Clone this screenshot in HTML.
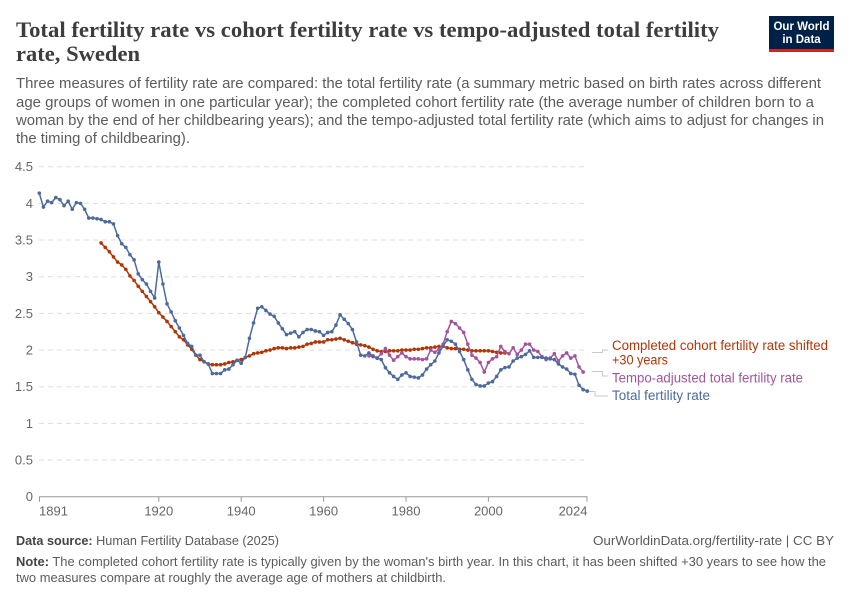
<!DOCTYPE html>
<html><head><meta charset="utf-8"><style>
html,body{margin:0;padding:0;background:#fff;}
svg{display:block;}
text{font-family:"Liberation Sans",sans-serif;}
</style></head><body>
<svg width="850" height="600" viewBox="0 0 850 600" xmlns="http://www.w3.org/2000/svg">
<rect width="850" height="600" fill="#fff"/>
<!-- Title -->
<g font-family="Liberation Serif, serif" font-weight="bold" fill="#3d3d3d" font-size="22.5">
<text x="16" y="37" textLength="703" lengthAdjust="spacingAndGlyphs" style="font-family:'Liberation Serif',serif">Total fertility rate vs cohort fertility rate vs tempo-adjusted total fertility</text>
<text x="16" y="61" textLength="124" lengthAdjust="spacingAndGlyphs" style="font-family:'Liberation Serif',serif">rate, Sweden</text>
</g>
<!-- Logo -->
<rect x="769" y="16" width="65" height="36" fill="#002147"/>
<rect x="769" y="49" width="65" height="3" fill="#ce261e"/>
<text x="801.5" y="30" fill="#fff" font-size="11.5" font-weight="bold" text-anchor="middle">Our World</text>
<text x="801.5" y="43" fill="#fff" font-size="11.5" font-weight="bold" text-anchor="middle">in Data</text>
<!-- Subtitle -->
<g fill="#5b5b5b" font-size="14.6">
<text x="16" y="88" textLength="805" lengthAdjust="spacingAndGlyphs">Three measures of fertility rate are compared: the total fertility rate (a summary metric based on birth rates across different</text>
<text x="16" y="107" textLength="798" lengthAdjust="spacingAndGlyphs">age groups of women in one particular year); the completed cohort fertility rate (the average number of children born to a</text>
<text x="16" y="125" textLength="808" lengthAdjust="spacingAndGlyphs">woman by the end of her childbearing years); and the tempo-adjusted total fertility rate (which aims to adjust for changes in</text>
<text x="16" y="143" textLength="174" lengthAdjust="spacingAndGlyphs">the timing of childbearing).</text>
</g>
<!-- Gridlines -->
<g stroke="#dddddd" stroke-width="1" stroke-dasharray="5,4">
<line x1="39" x2="587" y1="166.7" y2="166.7"/>
<line x1="39" x2="587" y1="203.4" y2="203.4"/>
<line x1="39" x2="587" y1="240.0" y2="240.0"/>
<line x1="39" x2="587" y1="276.7" y2="276.7"/>
<line x1="39" x2="587" y1="313.4" y2="313.4"/>
<line x1="39" x2="587" y1="350.0" y2="350.0"/>
<line x1="39" x2="587" y1="386.7" y2="386.7"/>
<line x1="39" x2="587" y1="423.4" y2="423.4"/>
<line x1="39" x2="587" y1="460.0" y2="460.0"/>
</g>
<!-- Y labels -->
<g fill="#666" font-size="13" text-anchor="end">
<text x="33" y="171.2">4.5</text>
<text x="33" y="207.9">4</text>
<text x="33" y="244.5">3.5</text>
<text x="33" y="281.2">3</text>
<text x="33" y="317.9">2.5</text>
<text x="33" y="354.5">2</text>
<text x="33" y="391.2">1.5</text>
<text x="33" y="427.9">1</text>
<text x="33" y="464.5">0.5</text>
<text x="33" y="501.2">0</text>
</g>
<!-- X axis -->
<line x1="39" x2="587.5" y1="496.7" y2="496.7" stroke="#999" stroke-width="1"/>
<g stroke="#999" stroke-width="1">
<line x1="39.5" x2="39.5" y1="496.7" y2="501.7"/>
<line x1="158.8" x2="158.8" y1="496.7" y2="501.7"/>
<line x1="241.2" x2="241.2" y1="496.7" y2="501.7"/>
<line x1="323.6" x2="323.6" y1="496.7" y2="501.7"/>
<line x1="406.0" x2="406.0" y1="496.7" y2="501.7"/>
<line x1="488.4" x2="488.4" y1="496.7" y2="501.7"/>
<line x1="587.0" x2="587.0" y1="496.7" y2="501.7"/>
</g>
<g fill="#666" font-size="13">
<text x="39" y="515.5">1891</text>
<text x="158.8" y="515.5" text-anchor="middle">1920</text>
<text x="241.2" y="515.5" text-anchor="middle">1940</text>
<text x="323.6" y="515.5" text-anchor="middle">1960</text>
<text x="406.0" y="515.5" text-anchor="middle">1980</text>
<text x="488.4" y="515.5" text-anchor="middle">2000</text>
<text x="587.5" y="515.5" text-anchor="end">2024</text>
</g>
<!-- Data series -->
<g transform="translate(39.3,496.7) scale(4.12,-73.33) translate(-1891,0)" fill="none" stroke-linejoin="round">
<!-- Cohort (red) -->
<polyline vector-effect="non-scaling-stroke" stroke="#b13507" stroke-width="1.5" points="1906,3.46 1907,3.40 1908,3.34 1909,3.27 1910,3.20 1911,3.16 1912,3.10 1913,3.01 1914,2.95 1915,2.87 1916,2.80 1917,2.73 1918,2.66 1919,2.59 1920,2.51 1921,2.45 1922,2.39 1923,2.32 1924,2.25 1925,2.18 1926,2.14 1927,2.07 1928,2.01 1929,1.93 1930,1.87 1931,1.84 1932,1.81 1933,1.80 1934,1.80 1935,1.80 1936,1.81 1937,1.83 1938,1.84 1939,1.86 1940,1.87 1941,1.90 1942,1.92 1943,1.95 1944,1.96 1945,1.97 1946,1.99 1947,2.00 1948,2.02 1949,2.03 1950,2.03 1951,2.02 1952,2.03 1953,2.03 1954,2.04 1955,2.05 1956,2.08 1957,2.09 1958,2.11 1959,2.11 1960,2.11 1961,2.14 1962,2.14 1963,2.15 1964,2.16 1965,2.14 1966,2.12 1967,2.10 1968,2.08 1969,2.07 1970,2.06 1971,2.04 1972,2.01 1973,1.99 1974,1.98 1975,1.98 1976,1.99 1977,1.99 1978,1.99 1979,2.00 1980,2.00 1981,2.00 1982,2.01 1983,2.01 1984,2.02 1985,2.03 1986,2.03 1987,2.04 1988,2.05 1989,2.05 1990,2.03 1991,2.02 1992,2.02 1993,2.01 1994,2.01 1995,2.00 1996,1.99 1997,1.99 1998,1.99 1999,1.99 2000,1.99 2001,1.98 2002,1.97 2003,1.96 2004,1.96"/>
<path vector-effect="non-scaling-stroke" stroke="#b13507" stroke-width="3.6" stroke-linecap="round" d="M1906 3.46h0.01M1907 3.40h0.01M1908 3.34h0.01M1909 3.27h0.01M1910 3.20h0.01M1911 3.16h0.01M1912 3.10h0.01M1913 3.01h0.01M1914 2.95h0.01M1915 2.87h0.01M1916 2.80h0.01M1917 2.73h0.01M1918 2.66h0.01M1919 2.59h0.01M1920 2.51h0.01M1921 2.45h0.01M1922 2.39h0.01M1923 2.32h0.01M1924 2.25h0.01M1925 2.18h0.01M1926 2.14h0.01M1927 2.07h0.01M1928 2.01h0.01M1929 1.93h0.01M1930 1.87h0.01M1931 1.84h0.01M1932 1.81h0.01M1933 1.80h0.01M1934 1.80h0.01M1935 1.80h0.01M1936 1.81h0.01M1937 1.83h0.01M1938 1.84h0.01M1939 1.86h0.01M1940 1.87h0.01M1941 1.90h0.01M1942 1.92h0.01M1943 1.95h0.01M1944 1.96h0.01M1945 1.97h0.01M1946 1.99h0.01M1947 2.00h0.01M1948 2.02h0.01M1949 2.03h0.01M1950 2.03h0.01M1951 2.02h0.01M1952 2.03h0.01M1953 2.03h0.01M1954 2.04h0.01M1955 2.05h0.01M1956 2.08h0.01M1957 2.09h0.01M1958 2.11h0.01M1959 2.11h0.01M1960 2.11h0.01M1961 2.14h0.01M1962 2.14h0.01M1963 2.15h0.01M1964 2.16h0.01M1965 2.14h0.01M1966 2.12h0.01M1967 2.10h0.01M1968 2.08h0.01M1969 2.07h0.01M1970 2.06h0.01M1971 2.04h0.01M1972 2.01h0.01M1973 1.99h0.01M1974 1.98h0.01M1975 1.98h0.01M1976 1.99h0.01M1977 1.99h0.01M1978 1.99h0.01M1979 2.00h0.01M1980 2.00h0.01M1981 2.00h0.01M1982 2.01h0.01M1983 2.01h0.01M1984 2.02h0.01M1985 2.03h0.01M1986 2.03h0.01M1987 2.04h0.01M1988 2.05h0.01M1989 2.05h0.01M1990 2.03h0.01M1991 2.02h0.01M1992 2.02h0.01M1993 2.01h0.01M1994 2.01h0.01M1995 2.00h0.01M1996 1.99h0.01M1997 1.99h0.01M1998 1.99h0.01M1999 1.99h0.01M2000 1.99h0.01M2001 1.98h0.01M2002 1.97h0.01M2003 1.96h0.01M2004 1.96h0.01"/>
<!-- Tempo-adjusted (purple) -->
<polyline vector-effect="non-scaling-stroke" stroke="#a2559c" stroke-width="1.5" points="1971,1.92 1972,1.91 1973,1.89 1974,1.95 1975,2.02 1976,1.93 1977,1.86 1978,1.91 1979,1.96 1980,1.91 1981,1.88 1982,1.88 1983,1.88 1984,1.87 1985,1.88 1986,2.00 1987,1.97 1988,2.01 1989,2.08 1990,2.25 1991,2.39 1992,2.36 1993,2.30 1994,2.24 1995,2.08 1996,1.93 1997,1.89 1998,1.83 1999,1.70 2000,1.83 2001,1.88 2002,1.91 2003,2.05 2004,1.98 2005,1.95 2006,2.03 2007,1.94 2008,2.00 2009,2.08 2010,2.08 2011,2.00 2012,1.98 2013,1.91 2014,1.87 2015,1.89 2016,1.95 2017,1.85 2018,1.92 2019,1.96 2020,1.89 2021,1.92 2022,1.77 2023,1.70"/>
<path vector-effect="non-scaling-stroke" stroke="#a2559c" stroke-width="3.6" stroke-linecap="round" d="M1971 1.92h0.01M1972 1.91h0.01M1973 1.89h0.01M1974 1.95h0.01M1975 2.02h0.01M1976 1.93h0.01M1977 1.86h0.01M1978 1.91h0.01M1979 1.96h0.01M1980 1.91h0.01M1981 1.88h0.01M1982 1.88h0.01M1983 1.88h0.01M1984 1.87h0.01M1985 1.88h0.01M1986 2.00h0.01M1987 1.97h0.01M1988 2.01h0.01M1989 2.08h0.01M1990 2.25h0.01M1991 2.39h0.01M1992 2.36h0.01M1993 2.30h0.01M1994 2.24h0.01M1995 2.08h0.01M1996 1.93h0.01M1997 1.89h0.01M1998 1.83h0.01M1999 1.70h0.01M2000 1.83h0.01M2001 1.88h0.01M2002 1.91h0.01M2003 2.05h0.01M2004 1.98h0.01M2005 1.95h0.01M2006 2.03h0.01M2007 1.94h0.01M2008 2.00h0.01M2009 2.08h0.01M2010 2.08h0.01M2011 2.00h0.01M2012 1.98h0.01M2013 1.91h0.01M2014 1.87h0.01M2015 1.89h0.01M2016 1.95h0.01M2017 1.85h0.01M2018 1.92h0.01M2019 1.96h0.01M2020 1.89h0.01M2021 1.92h0.01M2022 1.77h0.01M2023 1.70h0.01"/>
<!-- TFR (blue) -->
<polyline vector-effect="non-scaling-stroke" stroke="#4c6a9c" stroke-width="1.5" points="1891,4.14 1892,3.95 1893,4.03 1894,4.01 1895,4.08 1896,4.05 1897,3.97 1898,4.03 1899,3.92 1900,4.01 1901,4.00 1902,3.92 1903,3.80 1904,3.80 1905,3.79 1906,3.78 1907,3.75 1908,3.75 1909,3.72 1910,3.56 1911,3.45 1912,3.40 1913,3.30 1914,3.23 1915,3.04 1916,2.96 1917,2.90 1918,2.80 1919,2.71 1920,3.20 1921,2.90 1922,2.63 1923,2.52 1924,2.40 1925,2.30 1926,2.20 1927,2.09 1928,2.05 1929,1.93 1930,1.93 1931,1.84 1932,1.81 1933,1.68 1934,1.68 1935,1.68 1936,1.73 1937,1.74 1938,1.80 1939,1.86 1940,1.82 1941,1.90 1942,2.16 1943,2.37 1944,2.57 1945,2.59 1946,2.54 1947,2.49 1948,2.46 1949,2.37 1950,2.29 1951,2.21 1952,2.23 1953,2.25 1954,2.18 1955,2.24 1956,2.28 1957,2.28 1958,2.26 1959,2.25 1960,2.20 1961,2.24 1962,2.25 1963,2.34 1964,2.48 1965,2.42 1966,2.36 1967,2.28 1968,2.11 1969,1.93 1970,1.92 1971,1.96 1972,1.92 1973,1.89 1974,1.87 1975,1.76 1976,1.69 1977,1.64 1978,1.60 1979,1.66 1980,1.69 1981,1.64 1982,1.63 1983,1.62 1984,1.66 1985,1.74 1986,1.80 1987,1.85 1988,1.96 1989,2.05 1990,2.14 1991,2.12 1992,2.08 1993,1.98 1994,1.87 1995,1.73 1996,1.60 1997,1.53 1998,1.51 1999,1.51 2000,1.55 2001,1.57 2002,1.64 2003,1.73 2004,1.76 2005,1.77 2006,1.85 2007,1.89 2008,1.91 2009,1.94 2010,1.99 2011,1.90 2012,1.90 2013,1.90 2014,1.89 2015,1.88 2016,1.87 2017,1.81 2018,1.77 2019,1.74 2020,1.68 2021,1.67 2022,1.52 2023,1.46 2024,1.44"/>
<path vector-effect="non-scaling-stroke" stroke="#4c6a9c" stroke-width="3.6" stroke-linecap="round" d="M1891 4.14h0.01M1892 3.95h0.01M1893 4.03h0.01M1894 4.01h0.01M1895 4.08h0.01M1896 4.05h0.01M1897 3.97h0.01M1898 4.03h0.01M1899 3.92h0.01M1900 4.01h0.01M1901 4.00h0.01M1902 3.92h0.01M1903 3.80h0.01M1904 3.80h0.01M1905 3.79h0.01M1906 3.78h0.01M1907 3.75h0.01M1908 3.75h0.01M1909 3.72h0.01M1910 3.56h0.01M1911 3.45h0.01M1912 3.40h0.01M1913 3.30h0.01M1914 3.23h0.01M1915 3.04h0.01M1916 2.96h0.01M1917 2.90h0.01M1918 2.80h0.01M1919 2.71h0.01M1920 3.20h0.01M1921 2.90h0.01M1922 2.63h0.01M1923 2.52h0.01M1924 2.40h0.01M1925 2.30h0.01M1926 2.20h0.01M1927 2.09h0.01M1928 2.05h0.01M1929 1.93h0.01M1930 1.93h0.01M1931 1.84h0.01M1932 1.81h0.01M1933 1.68h0.01M1934 1.68h0.01M1935 1.68h0.01M1936 1.73h0.01M1937 1.74h0.01M1938 1.80h0.01M1939 1.86h0.01M1940 1.82h0.01M1941 1.90h0.01M1942 2.16h0.01M1943 2.37h0.01M1944 2.57h0.01M1945 2.59h0.01M1946 2.54h0.01M1947 2.49h0.01M1948 2.46h0.01M1949 2.37h0.01M1950 2.29h0.01M1951 2.21h0.01M1952 2.23h0.01M1953 2.25h0.01M1954 2.18h0.01M1955 2.24h0.01M1956 2.28h0.01M1957 2.28h0.01M1958 2.26h0.01M1959 2.25h0.01M1960 2.20h0.01M1961 2.24h0.01M1962 2.25h0.01M1963 2.34h0.01M1964 2.48h0.01M1965 2.42h0.01M1966 2.36h0.01M1967 2.28h0.01M1968 2.11h0.01M1969 1.93h0.01M1970 1.92h0.01M1971 1.96h0.01M1972 1.92h0.01M1973 1.89h0.01M1974 1.87h0.01M1975 1.76h0.01M1976 1.69h0.01M1977 1.64h0.01M1978 1.60h0.01M1979 1.66h0.01M1980 1.69h0.01M1981 1.64h0.01M1982 1.63h0.01M1983 1.62h0.01M1984 1.66h0.01M1985 1.74h0.01M1986 1.80h0.01M1987 1.85h0.01M1988 1.96h0.01M1989 2.05h0.01M1990 2.14h0.01M1991 2.12h0.01M1992 2.08h0.01M1993 1.98h0.01M1994 1.87h0.01M1995 1.73h0.01M1996 1.60h0.01M1997 1.53h0.01M1998 1.51h0.01M1999 1.51h0.01M2000 1.55h0.01M2001 1.57h0.01M2002 1.64h0.01M2003 1.73h0.01M2004 1.76h0.01M2005 1.77h0.01M2006 1.85h0.01M2007 1.89h0.01M2008 1.91h0.01M2009 1.94h0.01M2010 1.99h0.01M2011 1.90h0.01M2012 1.90h0.01M2013 1.90h0.01M2014 1.89h0.01M2015 1.88h0.01M2016 1.87h0.01M2017 1.81h0.01M2018 1.77h0.01M2019 1.74h0.01M2020 1.68h0.01M2021 1.67h0.01M2022 1.52h0.01M2023 1.46h0.01M2024 1.44h0.01"/>
</g>
<!-- Legend connectors -->
<g fill="none" stroke="#c8c8c8" stroke-width="1">
<polyline points="592,352.5 602.5,352.5 602.5,350 608,350"/>
<polyline points="592,371.5 602.5,371.5 602.5,376 608,376"/>
<polyline points="589,391.5 595,391.5 595,396 608,396"/>
</g>
<!-- Legend labels -->
<g font-size="13.4">
<text x="612" y="350" fill="#b13507" textLength="216" lengthAdjust="spacingAndGlyphs">Completed cohort fertility rate shifted</text>
<text x="612" y="364.5" fill="#b13507" textLength="56" lengthAdjust="spacingAndGlyphs">+30 years</text>
<text x="612" y="382.5" fill="#a2559c" textLength="191" lengthAdjust="spacingAndGlyphs">Tempo-adjusted total fertility rate</text>
<text x="612" y="400" fill="#4c6a9c" textLength="98" lengthAdjust="spacingAndGlyphs">Total fertility rate</text>
</g>
<!-- Footer -->
<g fill="#5b5b5b" font-size="12.8">
<text x="16" y="545" textLength="263" lengthAdjust="spacingAndGlyphs"><tspan font-weight="bold" fill="#444">Data source:</tspan> Human Fertility Database (2025)</text>
<text x="834" y="545" text-anchor="end" textLength="241" lengthAdjust="spacingAndGlyphs">OurWorldinData.org/fertility-rate | CC BY</text>
<text x="16" y="566" textLength="810" lengthAdjust="spacingAndGlyphs"><tspan font-weight="bold" fill="#444">Note:</tspan> The completed cohort fertility rate is typically given by the woman's birth year. In this chart, it has been shifted +30 years to see how the</text>
<text x="16" y="582" textLength="430" lengthAdjust="spacingAndGlyphs">two measures compare at roughly the average age of mothers at childbirth.</text>
</g>
</svg>
</body></html>
